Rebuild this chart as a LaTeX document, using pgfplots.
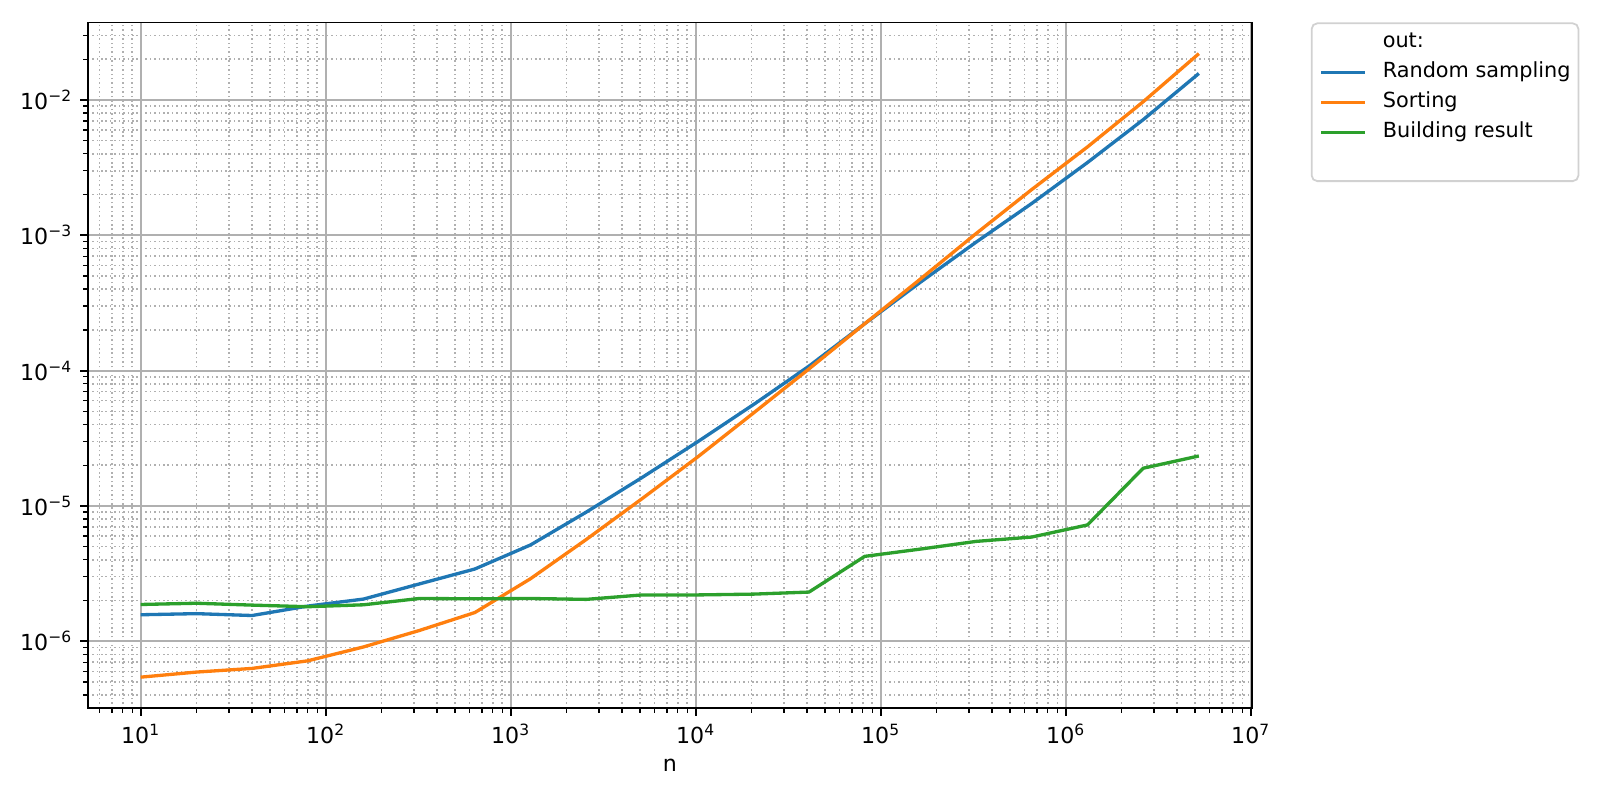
\documentclass[border=0pt]{standalone}
\usepackage{fontspec}
\setmainfont{DejaVu Sans}
\usepackage{pgfplots}
\pgfplotsset{compat=1.18}
\definecolor{tabblue}{HTML}{1F77B4}
\definecolor{taborange}{HTML}{FF7F0E}
\definecolor{tabgreen}{HTML}{2CA02C}
\definecolor{gridgray}{HTML}{B0B0B0}
\newcommand{\pw}[1]{10\textsuperscript{#1}}
\begin{document}
\begin{tikzpicture}
\useasboundingbox (-39.5bp,-41.3bp) rectangle (680.5bp,318.7bp);
\begin{axis}[
  at={(0,0)}, anchor=south west,
  scale only axis, width=523.8bp, height=308.6bp,
  xmode=log, ymode=log,
  xmin=5.176, xmax=1.013e7, ymin=3.2e-7, ymax=0.0374,
  xtick={1e1,1e2,1e3,1e4,1e5,1e6,1e7},
  xticklabels={\pw{1},\pw{2},\pw{3},\pw{4},\pw{5},\pw{6},\pw{7}},
  ytick={1e-6,1e-5,1e-4,1e-3,1e-2},
  yticklabels={\pw{−6},\pw{−5},\pw{−4},\pw{−3},\pw{−2}},
  minor xtick={6,7,8,9,20,30,40,50,60,70,80,90,200,300,400,500,600,700,800,900,
    2000,3000,4000,5000,6000,7000,8000,9000,2e4,3e4,4e4,5e4,6e4,7e4,8e4,9e4,
    2e5,3e5,4e5,5e5,6e5,7e5,8e5,9e5,2e6,3e6,4e6,5e6,6e6,7e6,8e6,9e6},
  minor ytick={4e-7,5e-7,6e-7,7e-7,8e-7,9e-7,2e-6,3e-6,4e-6,5e-6,6e-6,7e-6,8e-6,9e-6,
    2e-5,3e-5,4e-5,5e-5,6e-5,7e-5,8e-5,9e-5,2e-4,3e-4,4e-4,5e-4,6e-4,7e-4,8e-4,9e-4,
    2e-3,3e-3,4e-3,5e-3,6e-3,7e-3,8e-3,9e-3,2e-2,3e-2},
  grid=both,
  major grid style={draw=gridgray, line width=0.8pt},
  minor grid style={draw=gridgray, line width=0.7pt, dash pattern=on 0.7pt off 1.3pt},
  tick align=outside, tick pos=left,
  major tick length=3.5pt, minor tick length=2pt,
  tick style={black, line width=0.8pt},
  minor tick style={black, line width=0.6pt},
  axis line style={line width=0.8pt},
  tick label style={font=\fontsize{10}{12}\selectfont},
  xlabel={n},
  label style={font=\fontsize{10}{12}\selectfont},
  legend cell align=left,
  legend style={at={(1.0507,1)}, anchor=north west, draw=black!18, fill=white,
    rounded corners=2.5bp, line width=0.8pt, inner xsep=3.5bp, inner ysep=4bp,
    row sep=4.5bp, column sep=7.2bp,
    nodes={inner sep=0pt, text height=7bp, text depth=2bp},
    font=\fontsize{9.4}{11}\selectfont},
  legend image code/.code={\draw[#1, rounded corners=0pt] (0bp,0bp) -- (19.8bp,0bp);},
]
\addlegendimage{empty legend}
\addlegendentry{out:}
\addplot[tabblue, line width=1.5pt] coordinates {
(10,1.57e-6) (20,1.60e-6) (40,1.55e-6) (80,1.82e-6) (160,2.05e-6) (320,2.65e-6)
(640,3.42e-6) (1280,5.15e-6) (2560,9.0e-6) (5120,1.62e-5) (10240,2.98e-5)
(20480,5.6e-5) (40960,1.08e-4) (81920,2.22e-4) (163840,4.5e-4) (327680,8.9e-4)
(655360,1.72e-3) (1310720,3.45e-3) (2621440,7.15e-3) (5242880,1.57e-2)};
\addlegendentry{Random sampling}
\addplot[taborange, line width=1.5pt] coordinates {
(10,5.43e-7) (20,5.92e-7) (40,6.3e-7) (80,7.17e-7) (160,9.08e-7) (320,1.2e-6)
(640,1.63e-6) (1280,2.9e-6) (2560,5.65e-6) (5120,1.13e-5) (10240,2.3e-5)
(20480,4.85e-5) (40960,1.03e-4) (81920,2.22e-4) (163840,4.75e-4) (327680,1.03e-3)
(655360,2.18e-3) (1310720,4.5e-3) (2621440,9.7e-3) (5242880,2.2e-2)};
\addlegendentry{Sorting}
\addplot[tabgreen, line width=1.5pt] coordinates {
(10,1.87e-6) (20,1.91e-6) (40,1.85e-6) (80,1.80e-6) (160,1.86e-6) (320,2.07e-6)
(640,2.06e-6) (1280,2.07e-6) (2560,2.04e-6) (5120,2.2e-6) (10240,2.2e-6)
(20480,2.23e-6) (40960,2.31e-6) (81920,4.24e-6) (163840,4.8e-6) (327680,5.47e-6)
(655360,5.89e-6) (1310720,7.24e-6) (2621440,1.9e-5) (5242880,2.34e-5)};
\addlegendentry{Building result}
\addlegendimage{empty legend}
\addlegendentry{\strut}
\end{axis}
\end{tikzpicture}
\end{document}
